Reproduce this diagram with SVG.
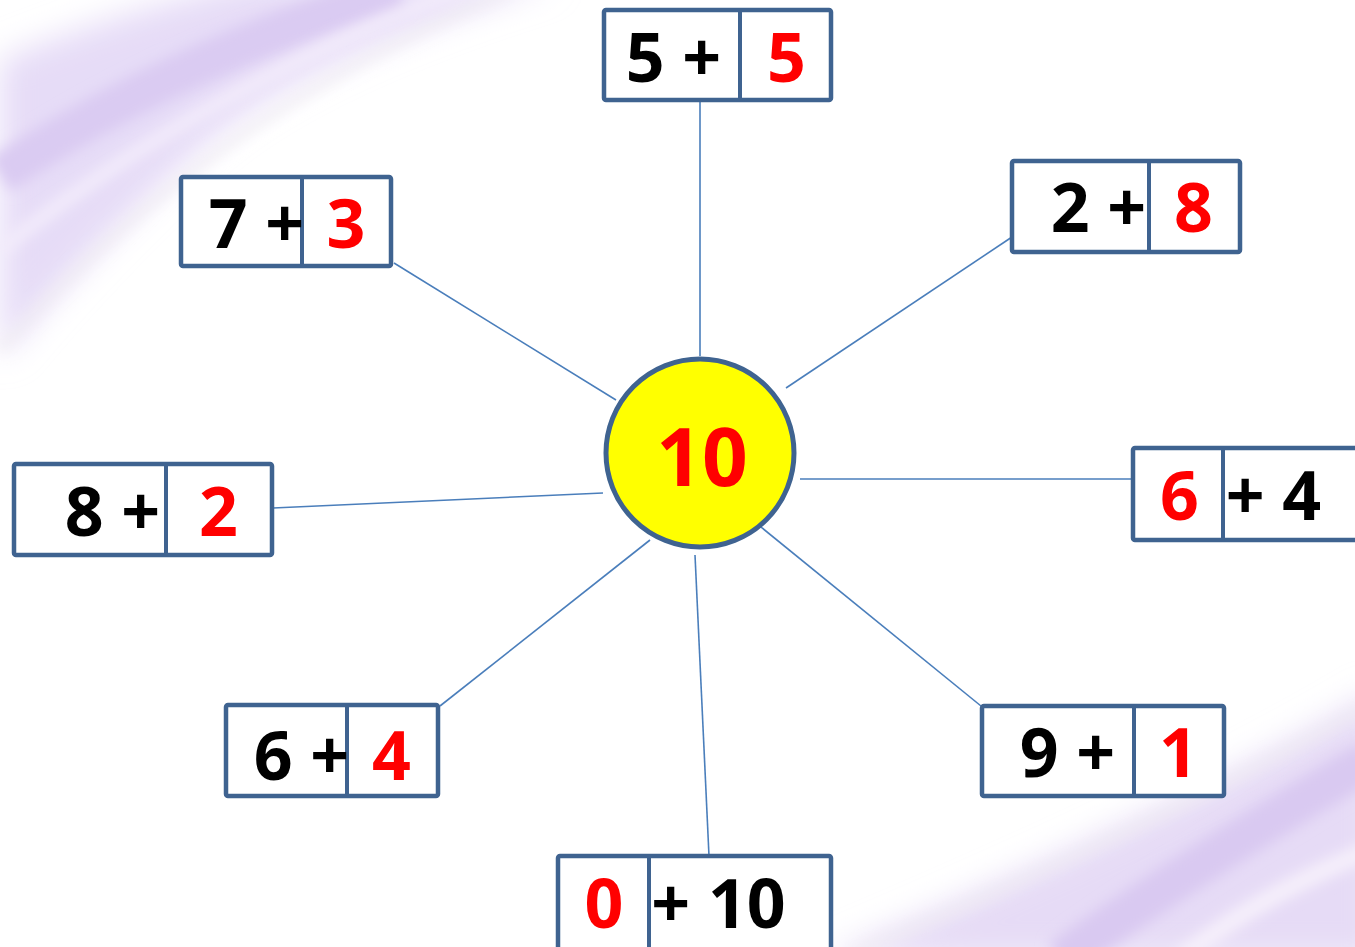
<svg xmlns="http://www.w3.org/2000/svg" width="1355" height="947" viewBox="0 0 1355 947">
<defs>
<filter id="blur" x="-20%" y="-20%" width="140%" height="140%"><feGaussianBlur stdDeviation="16"/></filter>
<filter id="blur2" x="-20%" y="-20%" width="140%" height="140%"><feGaussianBlur stdDeviation="7"/></filter>
<style>
.box{fill:#ffffff;stroke:#3F6390;stroke-width:4.5}
.div{stroke:#3F6390;stroke-width:4}
.con{stroke:#4A7EBB;stroke-width:1.6;fill:none}
.t{font-family:"Open Sans","Liberation Sans",sans-serif;font-weight:700;font-size:68px;text-anchor:middle}
.k{fill:#000000}
.r{fill:#FF0000}
</style>
</defs>
<rect width="1355" height="947" fill="#ffffff"/>
<g id="background">
<path d="M0,60 Q120,10 260,-20 L560,-20 Q300,60 200,150 Q90,250 0,360 Z" fill="#e6dcf7" filter="url(#blur)"/>
<path d="M0,175 Q170,60 400,-10" stroke="#dacbf2" stroke-width="40" fill="none" filter="url(#blur2)"/>
<path d="M0,250 Q200,90 460,-10" stroke="#f3ecfb" stroke-width="14" fill="none" filter="url(#blur2)"/>
<path d="M0,350 Q200,120 510,-10" stroke="#eeebf0" stroke-width="6" fill="none" filter="url(#blur2)"/>
<path d="M1380,690 Q1200,800 820,960 L1380,960 Z" fill="#e6dbf6" filter="url(#blur)"/>
<path d="M1370,760 Q1200,860 1060,960" stroke="#d9c9f1" stroke-width="40" fill="none" filter="url(#blur2)"/>
<path d="M1370,850 Q1250,900 1180,960" stroke="#f6f0fb" stroke-width="18" fill="none" filter="url(#blur2)"/>
<path d="M1370,705 Q1150,830 850,955" stroke="#eeebf0" stroke-width="6" fill="none" filter="url(#blur2)"/>
</g>
<g id="connectors">
<line class="con" x1="700" y1="100" x2="700" y2="356"/>
<line class="con" x1="394" y1="263" x2="616" y2="400"/>
<line class="con" x1="1012" y1="237" x2="786" y2="388"/>
<line class="con" x1="800" y1="479" x2="1133" y2="479"/>
<line class="con" x1="273" y1="508" x2="603" y2="493"/>
<line class="con" x1="440" y1="706" x2="650" y2="540"/>
<line class="con" x1="695" y1="555" x2="709" y2="856"/>
<line class="con" x1="756" y1="523" x2="981" y2="706"/>
</g>
<g id="center">
<circle cx="700" cy="453" r="94" fill="#FFFF00" stroke="#3F6390" stroke-width="5"/>
<text class="t r" x="702" y="486" style="font-size:80px">10</text>
</g>
<g id="n-5-5">
<rect class="box" x="604" y="10" width="227" height="90" rx="2"/>
<line class="div" x1="740" y1="10" x2="740" y2="100"/>
<text class="t k" x="673.5" y="82">5 +</text>
<text class="t r" x="786.5" y="82">5</text>
</g>
<g id="n-7-3">
<rect class="box" x="181" y="177" width="210" height="89" rx="2"/>
<line class="div" x1="302" y1="177" x2="302" y2="266"/>
<text class="t k" x="256.5" y="248">7 +</text>
<text class="t r" x="346" y="248">3</text>
</g>
<g id="n-2-8">
<rect class="box" x="1012" y="161" width="228" height="91" rx="2"/>
<line class="div" x1="1149" y1="161" x2="1149" y2="252"/>
<text class="t k" x="1098.5" y="232">2 +</text>
<text class="t r" x="1193.5" y="232">8</text>
</g>
<g id="n-6-4-right">
<rect class="box" x="1133" y="448" width="240" height="92" rx="2"/>
<line class="div" x1="1223" y1="448" x2="1223" y2="540"/>
<text class="t r" x="1179.5" y="520">6</text>
<text class="t k" x="1273.5" y="520">+ 4</text>
</g>
<g id="n-8-2">
<rect class="box" x="14" y="464" width="258" height="91" rx="2"/>
<line class="div" x1="166" y1="464" x2="166" y2="555"/>
<text class="t k" x="112.5" y="536">8 +</text>
<text class="t r" x="218.5" y="536">2</text>
</g>
<g id="n-0-10">
<rect class="box" x="558" y="856" width="273" height="100" rx="2"/>
<line class="div" x1="649" y1="856" x2="649" y2="956"/>
<text class="t r" x="604" y="928">0</text>
<text class="t k" x="718.5" y="928">+ 10</text>
</g>
<g id="n-6-4-left">
<rect class="box" x="226" y="705" width="212" height="91" rx="2"/>
<line class="div" x1="347" y1="705" x2="347" y2="796"/>
<text class="t k" x="301.5" y="780">6 +</text>
<text class="t r" x="391.5" y="780">4</text>
</g>
<g id="n-9-1">
<rect class="box" x="982" y="706" width="242" height="90" rx="2"/>
<line class="div" x1="1134" y1="706" x2="1134" y2="796"/>
<text class="t k" x="1067.5" y="777">9 +</text>
<text class="t r" x="1178.5" y="777">1</text>
</g>
</svg>
